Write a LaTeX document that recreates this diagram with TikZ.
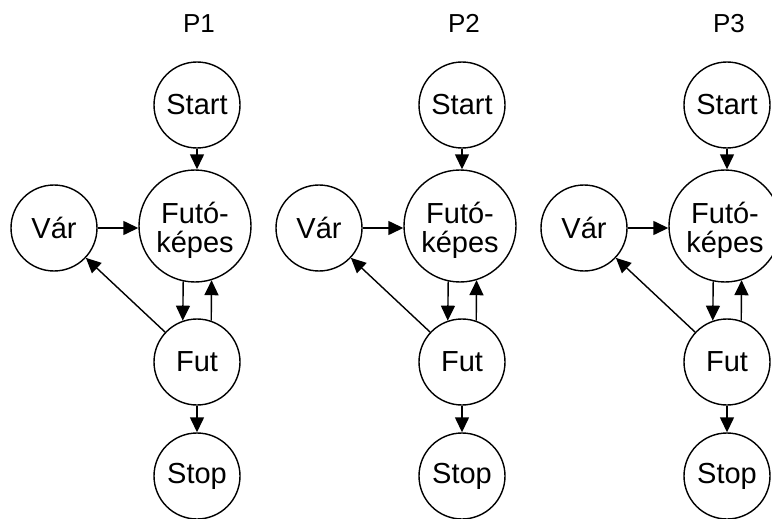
\documentclass[tikz,border=0pt]{standalone}
\usepackage{fontspec}
\setmainfont{Liberation Sans}
\usetikzlibrary{arrows.meta}
\tikzset{
  state/.style={circle, draw, line width=1.4pt, minimum size=86pt, inner sep=0pt,
    font=\fontsize{29}{28}\selectfont},
  bigstate/.style={state, minimum size=112pt},
  arr/.style={line width=1.4pt, -{Triangle[length=15pt,width=14pt]}},
  paneltitle/.style={anchor=base, inner sep=0pt, font=\fontsize{26}{26}\selectfont}
}
% two centred lines, lowered a little inside the circle
\newcommand\twolines[2]{\raisebox{-5.5pt}[\height][\depth]{%
  \begin{tabular}{@{}c@{}}#1\\#2\end{tabular}}}
\begin{document}
\begin{tikzpicture}[x=1pt,y=-1pt]
\useasboundingbox (0,0) rectangle (772,519);
\clip (0,0) rectangle (772,519);
\foreach \i/\dx in {1/0,2/265,3/530}{
  \begin{scope}[xshift=\dx pt]
    \node[paneltitle] (p\i) at (199,32.7) {P\i};
    \node[state] (start\i) at (197,105) {Start};
    \node[bigstate] (futo\i) at (195,226) {\twolines{Futó-}{képes}};
    \node[state] (var\i) at (54,228) {Vár};
    \node[state] (fut\i) at (197,362) {Fut};
    \node[state] (stop\i) at (197,476) {Stop};
    % transitions
    \draw[arr] (start\i.south) -- (start\i.south |- futo\i.north);
    \draw[arr] (var\i.east) -- (var\i.east -| futo\i.west);
    \draw[arr] (futo\i.-102.4) -- (fut\i.109);
    \draw[arr] (fut\i.71) -- (futo\i.-73.4);
    \draw[arr] (fut\i) -- (var\i);
    \draw[arr] (fut\i.south) -- (stop\i.north);
  \end{scope}
}
\end{tikzpicture}
\end{document}
